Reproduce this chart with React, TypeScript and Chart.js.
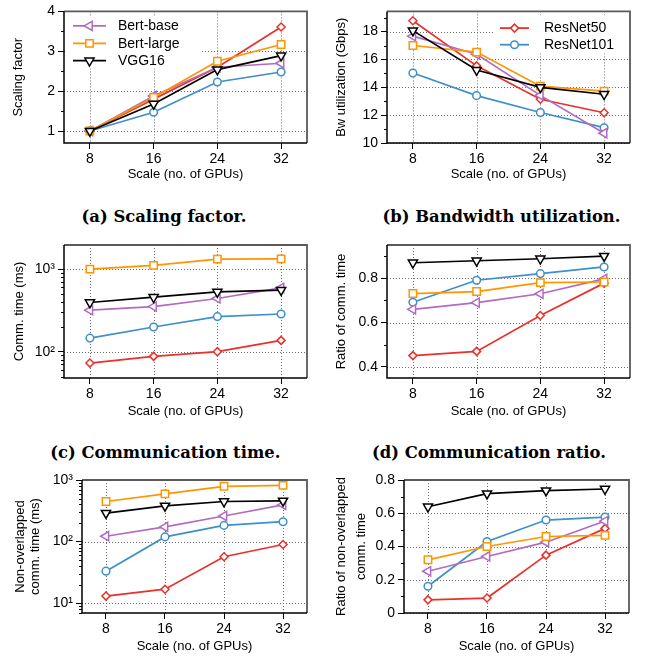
import React, { useEffect, useRef } from 'react';
import { Chart, registerables } from 'chart.js';

Chart.register(...registerables);
Chart.defaults.font.family = "'Liberation Sans', Arial, Helvetica, sans-serif";

// ---------------- data ----------------
const gpuScales = [8, 16, 24, 32];
const xTickLabels = ['8', '16', '24', '32'];

// (a) Scaling factor
const scalingBertBase = [1, 1.88, 2.6, 2.7];
const scalingBertLarge = [1, 1.84, 2.75, 3.17];
const scalingVgg16 = [1, 1.68, 2.54, 2.89];
const scalingResNet50 = [1, 1.8, 2.6, 3.61];
const scalingResNet101 = [1, 1.47, 2.23, 2.48];
const scalingTickValues = [1, 2, 3, 4];
const scalingTickLabels = ['1', '2', '3', '4'];

// (b) Bandwidth utilization (Gbps)
const bwBertBase = [17.67, 16.37, 13.42, 10.7];
const bwBertLarge = [17.0, 16.53, 14.08, 13.73];
const bwVgg16 = [18.07, 15.24, 14.0, 13.5];
const bwResNet50 = [18.78, 15.54, 13.14, 12.17];
const bwResNet101 = [15.03, 13.4, 12.19, 11.1];
const bwTickValues = [10, 12, 14, 16, 18];
const bwTickLabels = ['10', '12', '14', '16', '18'];

// (c) Communication time (ms)
const commBertBase = [318, 352, 441, 593];
const commBertLarge = [1000, 1109, 1322, 1330];
const commVgg16 = [394, 457, 529, 556];
const commResNet50 = [72.8, 87.7, 100, 137];
const commResNet101 = [146, 199, 266, 286];
const commTickValues = [100, 1000];
const commTickLabels = ['10²', '10³'];

// (d) Ratio of comm. time
const ratioBertBase = [0.66, 0.69, 0.73, 0.797];
const ratioBertLarge = [0.731, 0.74, 0.78, 0.783];
const ratioVgg16 = [0.87, 0.879, 0.888, 0.9];
const ratioResNet50 = [0.451, 0.47, 0.632, 0.778];
const ratioResNet101 = [0.692, 0.791, 0.821, 0.851];
const ratioTickValues = [0.4, 0.6, 0.8];
const ratioTickLabels = ['0.4', '0.6', '0.8'];

// (e) Non-overlapped comm. time (ms)
const nonOvBertBase = [122, 173, 260, 395];
const nonOvBertLarge = [447, 594, 790, 820];
const nonOvVgg16 = [290, 380, 447, 458];
const nonOvResNet50 = [13, 16.8, 56.6, 89.6];
const nonOvResNet101 = [33, 119, 183, 210];
const nonOvTickValues = [10, 100, 1000];
const nonOvTickLabels = ['10¹', '10²', '10³'];

// (f) Ratio of non-overlapped comm. time
const nonOvRatioBertBase = [0.251, 0.34, 0.426, 0.553];
const nonOvRatioBertLarge = [0.32, 0.4, 0.46, 0.467];
const nonOvRatioVgg16 = [0.639, 0.718, 0.736, 0.746];
const nonOvRatioResNet50 = [0.079, 0.09, 0.348, 0.509];
const nonOvRatioResNet101 = [0.161, 0.43, 0.559, 0.577];
const nonOvRatioTickValues = [0, 0.2, 0.4, 0.6, 0.8];
const nonOvRatioTickLabels = ['0', '0.2', '0.4', '0.6', '0.8'];

// ---------------- styles ----------------
type Style = { color: string; marker: string; rot: number; r: number };
const seriesStyles: Record<string, Style> = {
  'Bert-base': { color: '#b26bc2', marker: 'triangle', rot: -90, r: 5.3 },
  'Bert-large': { color: '#ff9500', marker: 'rect', rot: 0, r: 5.2 },
  VGG16: { color: '#000000', marker: 'triangle', rot: 180, r: 5.3 },
  ResNet50: { color: '#e8312a', marker: 'rectRot', rot: 0, r: 4 },
  ResNet101: { color: '#3f8fc8', marker: 'circle', rot: 0, r: 3.8 },
};
// first = drawn on top
const drawOrder = ['VGG16', 'Bert-large', 'Bert-base', 'ResNet101', 'ResNet50'];

type Legend = {
  names: string[];
  lineX0: number; lineX1: number; textX: number; rowY: number[];
  box: [number, number, number, number];
};
type Panel = {
  key: string;
  box: { x: number; y: number; w: number; h: number };
  plot: { l: number; t: number; r: number; b: number };
  yType: 'linear' | 'logarithmic';
  yMin: number; yMax: number;
  yTicks: number[]; yLabels: string[];
  yTitle: string | string[]; yTitlePad: number; yTitleLH: string;
  xTitlePad: number;
  series: Record<string, number[]>;
  legend?: Legend;
};

const X_MIN = 4.75;
const X_MAX = 35.25;

const panels: Panel[] = [
  {
    key: 'a', box: { x: 0, y: 0, w: 322, h: 183 }, plot: { l: 64, t: 10, r: 307, b: 143 },
    yType: 'linear', yMin: 0.7, yMax: 4, yTicks: scalingTickValues, yLabels: scalingTickLabels,
    yTitle: 'Scaling factor', yTitlePad: 10.5, yTitleLH: '15.6px', xTitlePad: 1,
    series: { 'Bert-base': scalingBertBase, 'Bert-large': scalingBertLarge, VGG16: scalingVgg16, ResNet50: scalingResNet50, ResNet101: scalingResNet101 },
    legend: { names: ['Bert-base', 'Bert-large', 'VGG16'], lineX0: 9, lineX1: 42, textX: 54, rowY: [14.5, 32, 49.3], box: [2, 5, 136, 57] },
  },
  {
    key: 'b', box: { x: 322, y: 0, w: 327, h: 183 }, plot: { l: 387, t: 10, r: 630, b: 143 },
    yType: 'linear', yMin: 10, yMax: 19.45, yTicks: bwTickValues, yLabels: bwTickLabels,
    yTitle: 'Bw utilization (Gbps)', yTitlePad: 12, yTitleLH: '15.6px', xTitlePad: 1,
    series: { 'Bert-base': bwBertBase, 'Bert-large': bwBertLarge, VGG16: bwVgg16, ResNet50: bwResNet50, ResNet101: bwResNet101 },
    legend: { names: ['ResNet50', 'ResNet101'], lineX0: 113, lineX1: 142, textX: 157, rowY: [16.7, 33.3], box: [108, 4, 241, 42] },
  },
  {
    key: 'c', box: { x: 0, y: 230, w: 322, h: 190 }, plot: { l: 64, t: 245, r: 307, b: 378 },
    yType: 'logarithmic', yMin: 48, yMax: 1960, yTicks: commTickValues, yLabels: commTickLabels,
    yTitle: 'Comm. time (ms)', yTitlePad: 11.5, yTitleLH: '15.6px', xTitlePad: 0.5,
    series: { 'Bert-base': commBertBase, 'Bert-large': commBertLarge, VGG16: commVgg16, ResNet50: commResNet50, ResNet101: commResNet101 },
  },
  {
    key: 'd', box: { x: 322, y: 230, w: 327, h: 190 }, plot: { l: 387, t: 245, r: 630, b: 378 },
    yType: 'linear', yMin: 0.35, yMax: 0.95, yTicks: ratioTickValues, yLabels: ratioTickLabels,
    yTitle: 'Ratio of comm. time', yTitlePad: 12, yTitleLH: '15.6px', xTitlePad: 0.5,
    series: { 'Bert-base': ratioBertBase, 'Bert-large': ratioBertLarge, VGG16: ratioVgg16, ResNet50: ratioResNet50, ResNet101: ratioResNet101 },
  },
  {
    key: 'e', box: { x: 0, y: 465, w: 322, h: 198 }, plot: { l: 82, t: 480, r: 307, b: 613 },
    yType: 'logarithmic', yMin: 6.9, yMax: 1000, yTicks: nonOvTickValues, yLabels: nonOvTickLabels,
    yTitle: ['Non-overlapped', 'comm. time (ms)'], yTitlePad: 13, yTitleLH: '15px', xTitlePad: 8.5,
    series: { 'Bert-base': nonOvBertBase, 'Bert-large': nonOvBertLarge, VGG16: nonOvVgg16, ResNet50: nonOvResNet50, ResNet101: nonOvResNet101 },
  },
  {
    key: 'f', box: { x: 322, y: 465, w: 327, h: 198 }, plot: { l: 404, t: 480, r: 629, b: 613 },
    yType: 'linear', yMin: 0, yMax: 0.8, yTicks: nonOvRatioTickValues, yLabels: nonOvRatioTickLabels,
    yTitle: ['Ratio of non-overlapped', 'comm. time'], yTitlePad: 9.7, yTitleLH: '20px', xTitlePad: 8.5,
    series: { 'Bert-base': nonOvRatioBertBase, 'Bert-large': nonOvRatioBertLarge, VGG16: nonOvRatioVgg16, ResNet50: nonOvRatioResNet50, ResNet101: nonOvRatioResNet101 },
  },
];

const captions = [
  { text: '(a) Scaling factor.', cx: 164, cy: 216.5 },
  { text: '(b) Bandwidth utilization.', cx: 501.5, cy: 216.5 },
  { text: '(c) Communication time.', cx: 165.3, cy: 453.3 },
  { text: '(d) Communication ratio.', cx: 489, cy: 453.3 },
];

// ---------------- helpers ----------------
function drawMarker(ctx: CanvasRenderingContext2D, st: Style, x: number, y: number) {
  const r = st.r;
  ctx.beginPath();
  if (st.marker === 'circle') {
    ctx.arc(x, y, r, 0, Math.PI * 2);
  } else if (st.marker === 'rect') {
    const s = r * Math.SQRT1_2;
    ctx.rect(x - s, y - s, 2 * s, 2 * s);
  } else if (st.marker === 'rectRot') {
    ctx.moveTo(x - r, y);
    ctx.lineTo(x, y - r);
    ctx.lineTo(x + r, y);
    ctx.lineTo(x, y + r);
    ctx.closePath();
  } else {
    let a = (st.rot * Math.PI) / 180;
    ctx.moveTo(x + Math.sin(a) * r, y - Math.cos(a) * r);
    a += (2 * Math.PI) / 3;
    ctx.lineTo(x + Math.sin(a) * r, y - Math.cos(a) * r);
    a += (2 * Math.PI) / 3;
    ctx.lineTo(x + Math.sin(a) * r, y - Math.cos(a) * r);
    ctx.closePath();
  }
  ctx.fillStyle = '#fff';
  ctx.fill();
  ctx.stroke();
}

function minorTicks(p: Panel): number[] {
  const out: number[] = [];
  if (p.yType === 'logarithmic') {
    const lo = Math.floor(Math.log10(p.yMin));
    const hi = Math.ceil(Math.log10(p.yMax));
    for (let e = lo; e <= hi; e++) {
      for (let k = 2; k <= 9; k++) {
        const v = k * Math.pow(10, e);
        if (v >= p.yMin && v <= p.yMax) out.push(v);
      }
    }
  } else {
    const step = p.yTicks[1] - p.yTicks[0];
    for (let v = p.yTicks[0] - step / 2; v <= p.yMax + 1e-9; v += step) {
      if (v >= p.yMin - 1e-9) out.push(v);
    }
  }
  return out;
}

function makeDeco(p: Panel) {
  return {
    id: 'deco_' + p.key,
    beforeDatasetsDraw(chart: any) {
      const { ctx, chartArea, scales } = chart;
      const { left, right, top, bottom } = chartArea;
      ctx.save();
      ctx.strokeStyle = '#6e6e6e';
      ctx.lineWidth = 1;
      ctx.setLineDash([1, 2]);
      for (const v of gpuScales) {
        const px = Math.round(scales.x.getPixelForValue(v)) + 0.5;
        ctx.beginPath();
        ctx.moveTo(px, top);
        ctx.lineTo(px, bottom);
        ctx.stroke();
      }
      for (const v of p.yTicks) {
        const py = Math.round(scales.y.getPixelForValue(v)) + 0.5;
        ctx.beginPath();
        ctx.moveTo(left, py);
        ctx.lineTo(right, py);
        ctx.stroke();
      }
      ctx.setLineDash([]);
      if (p.legend) {
        const [bx0, by0, bx1, by1] = p.legend.box;
        ctx.fillStyle = '#fff';
        ctx.fillRect(left + bx0, top + by0, bx1 - bx0, by1 - by0);
      }
      ctx.restore();
    },
    afterDatasetsDraw(chart: any) {
      const { ctx, chartArea, scales } = chart;
      const { left, right, top, bottom } = chartArea;
      ctx.save();
      // minor ticks
      ctx.strokeStyle = '#000';
      ctx.lineWidth = 1;
      for (const v of minorTicks(p)) {
        const py = Math.round(scales.y.getPixelForValue(v)) + 0.5;
        ctx.beginPath();
        ctx.moveTo(left - 3, py);
        ctx.lineTo(left, py);
        ctx.stroke();
      }
      // frame
      ctx.lineWidth = 1.8;
      ctx.strokeStyle = '#5a5a5a';
      ctx.beginPath();
      ctx.moveTo(left, top);
      ctx.lineTo(right, top);
      ctx.lineTo(right, bottom);
      ctx.stroke();
      ctx.lineWidth = 1.5;
      ctx.strokeStyle = '#000';
      ctx.beginPath();
      ctx.moveTo(left, top);
      ctx.lineTo(left, bottom);
      ctx.lineTo(right, bottom);
      ctx.stroke();
      // legend
      if (p.legend) {
        const lg = p.legend;
        ctx.font = "14px 'Liberation Sans', Arial, sans-serif";
        ctx.textBaseline = 'middle';
        ctx.textAlign = 'left';
        lg.names.forEach((name, i) => {
          const st = seriesStyles[name];
          const y = top + lg.rowY[i];
          ctx.strokeStyle = st.color;
          ctx.lineWidth = 1.8;
          ctx.beginPath();
          ctx.moveTo(left + lg.lineX0, y);
          ctx.lineTo(left + lg.lineX1, y);
          ctx.stroke();
          ctx.lineWidth = 1.5;
          drawMarker(ctx, st, left + (lg.lineX0 + lg.lineX1) / 2, y);
          ctx.fillStyle = '#000';
          ctx.fillText(name, left + lg.textX, y + 0.5);
        });
      }
      ctx.restore();
    },
  };
}

function buildConfig(p: Panel): any {
  const datasets = drawOrder.map((name) => {
    const st = seriesStyles[name];
    const vals = p.series[name];
    return {
      label: name,
      data: gpuScales.map((g, i) => ({ x: g, y: vals[i] })),
      borderColor: st.color,
      backgroundColor: '#fff',
      borderWidth: 1.7,
      pointStyle: st.marker,
      pointRotation: st.rot,
      pointRadius: st.r,
      pointBorderWidth: 1.5,
      pointBackgroundColor: '#fff',
      pointBorderColor: st.color,
      tension: 0,
      clip: false,
    };
  });
  const tickFont = { size: 14, family: "'Liberation Sans', Arial, sans-serif" };
  const titleFont = { size: 13, family: "'Liberation Sans', Arial, sans-serif" };
  const { box, plot } = p;
  return {
    type: 'line',
    data: { datasets },
    options: {
      animation: false,
      responsive: false,
      maintainAspectRatio: false,
      devicePixelRatio: 1,
      events: [],
      layout: { padding: { left: 0, top: plot.t - box.y, right: box.x + box.w - plot.r, bottom: 0 } },
      plugins: { legend: { display: false }, tooltip: { enabled: false } },
      scales: {
        x: {
          type: 'linear',
          position: 'bottom',
          min: X_MIN,
          max: X_MAX,
          afterBuildTicks: (s: any) => {
            s.ticks = gpuScales.map((v) => ({ value: v }));
          },
          afterFit: (s: any) => {
            s.height = box.y + box.h - plot.b;
          },
          ticks: {
            font: tickFont,
            color: '#000',
            padding: 2,
            maxRotation: 0,
            autoSkip: false,
            callback: (v: number) => {
              const i = gpuScales.indexOf(v);
              return i >= 0 ? xTickLabels[i] : '';
            },
          },
          grid: { display: true, drawOnChartArea: false, drawTicks: true, tickLength: 6, color: '#000', lineWidth: 1 },
          border: { display: false },
          title: { display: true, text: 'Scale (no. of GPUs)', font: titleFont, color: '#000', padding: { top: 0, bottom: p.xTitlePad } },
        },
        y: {
          type: p.yType,
          position: 'left',
          min: p.yMin,
          max: p.yMax,
          afterBuildTicks: (s: any) => {
            s.ticks = p.yTicks.map((v) => ({ value: v }));
          },
          afterFit: (s: any) => {
            s.width = plot.l - box.x;
          },
          ticks: {
            font: tickFont,
            color: '#000',
            padding: 3,
            autoSkip: false,
            callback: (v: number) => {
              const i = p.yTicks.findIndex((t) => Math.abs(t - v) < 1e-6 * Math.max(1, Math.abs(t)));
              return i >= 0 ? p.yLabels[i] : '';
            },
          },
          grid: { display: true, drawOnChartArea: false, drawTicks: true, tickLength: 6, color: '#000', lineWidth: 1 },
          border: { display: false },
          title: {
            display: true,
            text: p.yTitle,
            font: { ...titleFont, lineHeight: p.yTitleLH },
            color: '#000',
            padding: { top: p.yTitlePad, bottom: 0 },
          },
        },
      },
    },
    plugins: [makeDeco(p)],
  };
}

function PanelChart({ panel }: { panel: Panel }) {
  const ref = useRef<HTMLCanvasElement>(null);
  useEffect(() => {
    if (!ref.current) return;
    const chart = new Chart(ref.current, buildConfig(panel));
    return () => chart.destroy();
  }, [panel]);
  const { box } = panel;
  return (
    <canvas
      ref={ref}
      width={box.w}
      height={box.h}
      style={{ position: 'absolute', left: box.x, top: box.y, width: box.w, height: box.h }}
    />
  );
}

export default function App() {
  return (
    <div style={{ position: 'absolute', left: 0, top: 0, width: 649, height: 663, background: '#fff', overflow: 'hidden' }}>
      {panels.map((p) => (
        <PanelChart key={p.key} panel={p} />
      ))}
      {captions.map((c) => (
        <div
          key={c.text}
          style={{
            position: 'absolute',
            left: c.cx - 200,
            top: c.cy - 10,
            width: 400,
            height: 20,
            lineHeight: '20px',
            textAlign: 'center',
            fontFamily: "'DejaVu Serif', serif",
            fontWeight: 'bold',
            fontSize: 16.4,
            color: '#000',
            whiteSpace: 'nowrap',
          }}
        >
          {c.text}
        </div>
      ))}
    </div>
  );
}
